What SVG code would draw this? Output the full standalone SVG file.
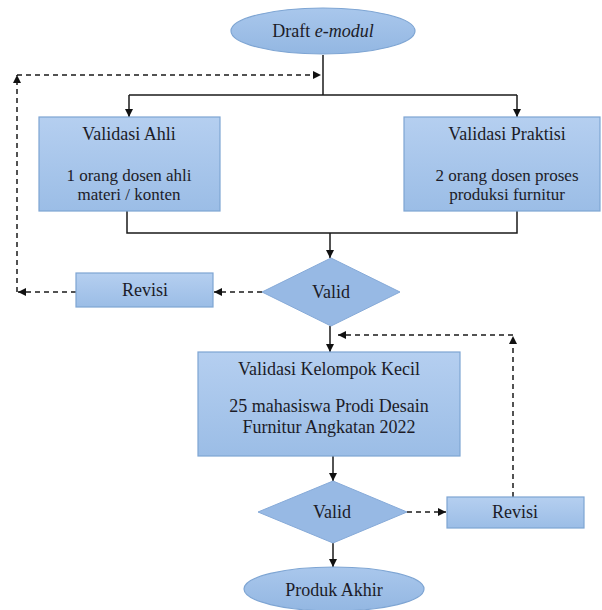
<svg xmlns="http://www.w3.org/2000/svg" width="602" height="610" viewBox="0 0 602 610">
<defs>
<linearGradient id="gBox" x1="0" y1="0" x2="0" y2="1">
<stop offset="0" stop-color="#b5cff0"/>
<stop offset="1" stop-color="#9bbde6"/>
</linearGradient>
<linearGradient id="gEll" x1="0" y1="0" x2="0" y2="1">
<stop offset="0" stop-color="#a9c7ec"/>
<stop offset="1" stop-color="#93b7e2"/>
</linearGradient>
<marker id="ah" viewBox="0 0 10 10" refX="10" refY="5" markerWidth="8" markerHeight="8" markerUnits="userSpaceOnUse" orient="auto">
<path d="M0,0 L10,5 L0,10 z" fill="#111"/>
</marker>
<style>
.box{fill:url(#gBox);stroke:#7ea5d3;stroke-width:1.2}
.dia{fill:#97b9e4;stroke:#86aad8;stroke-width:1}
.ell{fill:url(#gEll);stroke:#7ea5d3;stroke-width:1.2}
text{font-family:'Liberation Serif','DejaVu Serif',serif;font-size:18px;fill:#1c1c28;text-anchor:middle}
.sm{font-size:17px}
.s{fill:none;stroke:#1a1a1a;stroke-width:1.5}
.d{fill:none;stroke:#1a1a1a;stroke-width:1.5;stroke-dasharray:5 4}
</style>
</defs>
<rect width="602" height="610" fill="#ffffff"/>
<g id="connectors">
<path class="s" d="M323,55 V95"/>
<path class="s" d="M129,95 H517"/>
<path class="s" d="M129,95 V117" marker-end="url(#ah)"/>
<path class="s" d="M517,95 V117" marker-end="url(#ah)"/>
<path class="s" d="M127,211 V233 H517 V211"/>
<path class="s" d="M330,233 V258" marker-end="url(#ah)"/>
<path class="s" d="M330,326 V352" marker-end="url(#ah)"/>
<path class="s" d="M333,456 V481" marker-end="url(#ah)"/>
<path class="s" d="M333,543 V567" marker-end="url(#ah)"/>
<path class="d" d="M262,292 H214" marker-end="url(#ah)"/>
<path class="d" d="M76,292 H18" marker-end="url(#ah)"/>
<path class="d" d="M17,292 V75" marker-end="url(#ah)"/>
<path class="d" d="M17,75 H321" marker-end="url(#ah)"/>
<path class="d" d="M407,512 H446" marker-end="url(#ah)"/>
<path class="d" d="M513,497 V336" marker-end="url(#ah)"/>
<path class="d" d="M513,335 H338" marker-end="url(#ah)"/>
</g>
<g id="draft">
<ellipse class="ell" cx="323" cy="31" rx="92" ry="23"/>
<text x="323" y="37" font-family="Liberation Serif, serif">Draft <tspan font-style="italic">e-modul</tspan></text>
</g>
<g id="validasi-ahli">
<rect class="box" x="39" y="117" width="181" height="94"/>
<text x="129" y="140" font-family="Liberation Serif, serif">Validasi Ahli</text>
<text class="sm" x="129" y="181" font-family="Liberation Serif, serif">1 orang dosen ahli</text>
<text class="sm" x="129" y="200" font-family="Liberation Serif, serif">materi / konten</text>
</g>
<g id="validasi-praktisi">
<rect class="box" x="404" y="117" width="196" height="94"/>
<text x="507" y="140" font-family="Liberation Serif, serif">Validasi Praktisi</text>
<text class="sm" x="507" y="181" font-family="Liberation Serif, serif">2 orang dosen proses</text>
<text class="sm" x="507" y="200" font-family="Liberation Serif, serif">produksi furnitur</text>
</g>
<g id="valid-1">
<polygon class="dia" points="331,258 400,292 331,326 262,292"/>
<text x="331" y="298" font-family="Liberation Serif, serif">Valid</text>
</g>
<g id="revisi-1">
<rect class="box" x="76" y="273" width="137" height="34"/>
<text x="145" y="296" font-family="Liberation Serif, serif">Revisi</text>
</g>
<g id="validasi-kelompok">
<rect class="box" x="198" y="352" width="262" height="104"/>
<text x="329" y="375" font-family="Liberation Serif, serif">Validasi Kelompok Kecil</text>
<text x="329" y="412" font-family="Liberation Serif, serif">25 mahasiswa Prodi Desain</text>
<text x="329" y="433" font-family="Liberation Serif, serif">Furnitur Angkatan 2022</text>
</g>
<g id="valid-2">
<polygon class="dia" points="333,481 407,512 333,543 258,512"/>
<text x="332" y="518" font-family="Liberation Serif, serif">Valid</text>
</g>
<g id="revisi-2">
<rect class="box" x="447" y="497" width="137" height="31"/>
<text x="515" y="518" font-family="Liberation Serif, serif">Revisi</text>
</g>
<g id="produk-akhir">
<ellipse class="ell" cx="334" cy="589" rx="90" ry="22"/>
<text x="334" y="596" font-family="Liberation Serif, serif">Produk Akhir</text>
</g>
</svg>
